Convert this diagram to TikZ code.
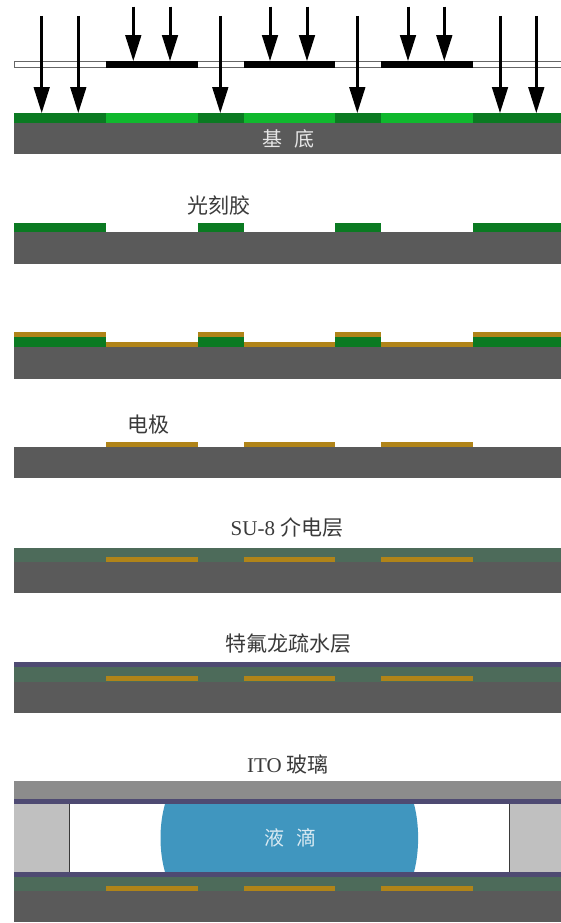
\documentclass[tikz,border=0pt]{standalone}
\usepackage{fontspec}
\setmainfont{Liberation Serif}
\newfontfamily\cjk{Noto Sans CJK SC}
\usetikzlibrary{arrows.meta}
\definecolor{subst}{HTML}{5A5A5A}
\definecolor{darkg}{HTML}{0B7A22}
\definecolor{brightg}{HTML}{10B82E}
\definecolor{gold}{HTML}{B08419}
\definecolor{sugreen}{HTML}{4D6B5A}
\definecolor{teflon}{HTML}{4E4A72}
\definecolor{glass}{HTML}{8C8C8C}
\definecolor{spacer}{HTML}{C0C0C0}
\definecolor{drop}{HTML}{4096BF}
\definecolor{ink}{HTML}{3A3A3A}
\tikzset{
  expo/.style={draw=black,line width=3pt,-{Triangle[length=26pt,width=15.5pt]},shorten >=-0.5pt},
  darklabel/.style={text=ink,inner sep=0pt,font=\fontsize{21}{25}\selectfont},
  darkcjk/.style={text=ink,inner sep=0pt,font=\fontsize{21}{25}\selectfont\cjk},
  lightlabel/.style={inner sep=0pt,font=\fontsize{20}{24}\selectfont\cjk},
}
\newcommand{\bandfill}[5]{\fill[#1] (#2,#3) rectangle (#4,#5);}
\begin{document}
\begin{tikzpicture}[x=1pt,y=-1pt]
\useasboundingbox (0,0) rectangle (561,923);
% panel 1
\bandfill{darkg}{14}{113}{561}{123}
\foreach \a/\b in {105.5/197.5,243.5/335,380.5/472.5}{\bandfill{brightg}{\a}{113}{\b}{123}}
\bandfill{subst}{14}{123}{561}{154}
\draw[black!60,line width=1.3pt] (14.7,61.7) rectangle (563,67.5);
\foreach \a/\b in {105.5/197.5,243.5/335,380.5/472.5}{\bandfill{black}{\a}{61}{\b}{68}}
\foreach \x [count=\i] in {41.7,78.3,220.3,357.3,500,536.3}{
  \coordinate (ls\i) at (\x,16);
  \coordinate (le\i) at (\x,112.7);
  \draw[expo] (ls\i) -- (le\i);
}
\foreach \x [count=\i] in {133.3,170,270,307,408,444.3}{
  \coordinate (us\i) at (\x,6.7);
  \coordinate (ue\i) at (\x,60.7);
  \draw[expo] (us\i) -- (ue\i);
}
\node[lightlabel,text=white!85!subst] (base) at (288,139) {基\hspace{0.6em}底};
% panel 2
\node[darkcjk] (resist) at (219,206) {光刻胶};
\bandfill{subst}{14}{232}{561}{264}
\foreach \a/\b in {14/105.5,197.5/243.5,335/381,472.5/561}{\bandfill{darkg}{\a}{223}{\b}{232}}
% panel 3
\bandfill{subst}{14}{347}{561}{378.5}
\foreach \a/\b in {14/105.5,197.5/243.5,335/381,472.5/561}{
  \bandfill{darkg}{\a}{337}{\b}{347}
  \bandfill{gold}{\a}{332}{\b}{337}
}
\foreach \a/\b in {105.5/197.5,243.5/335,381/472.5}{\bandfill{gold}{\a}{342}{\b}{347}}
% panel 4
\node[darkcjk] (electrode) at (148,425) {电极};
\bandfill{subst}{14}{447}{561}{478}
\foreach \a/\b in {105.5/197.5,243.5/335,381/472.5}{\bandfill{gold}{\a}{442}{\b}{447}}
% panel 5
\node[darklabel] (su) at (287,528) {SU-8 {\cjk 介电层}};
\bandfill{sugreen}{14}{548}{561}{562}
\bandfill{subst}{14}{562}{561}{593}
\foreach \a/\b in {105.5/197.5,243.5/335,381/472.5}{\bandfill{gold}{\a}{557}{\b}{561.5}}
% panel 6
\node[darkcjk] (teflonlabel) at (288.5,644) {特氟龙疏水层};
\bandfill{teflon}{14}{662}{561}{667}
\bandfill{sugreen}{14}{667}{561}{682}
\bandfill{subst}{14}{682}{561}{713}
\foreach \a/\b in {105.5/197.5,243.5/335,381/472.5}{\bandfill{gold}{\a}{676}{\b}{681}}
% panel 7
\node[darklabel] (ito) at (288,764) {ITO {\cjk 玻璃}};
\bandfill{glass}{14}{781}{561}{799}
\bandfill{teflon}{14}{799}{561}{804}
\fill[spacer] (14,804) rectangle (69,872);
\fill[spacer] (509,804) rectangle (561,872);
\draw[ink,line width=0.9pt] (69,804) -- (69,872);
\draw[ink,line width=0.9pt] (509,804) -- (509,872);
\fill[drop] (165,804) .. controls (159,825) and (159,851) .. (165,872)
  -- (414,872) .. controls (419.5,851) and (419.5,825) .. (414,804) -- cycle;
\node[lightlabel,text=white!80!drop] (droplet) at (290,838) {液\hspace{0.6em}滴};
\bandfill{teflon}{14}{872}{561}{877}
\bandfill{sugreen}{14}{877}{561}{891}
\bandfill{subst}{14}{891}{561}{922}
\foreach \a/\b in {105.5/197.5,243.5/335,381/472.5}{\bandfill{gold}{\a}{886}{\b}{891}}
\end{tikzpicture}
\end{document}
